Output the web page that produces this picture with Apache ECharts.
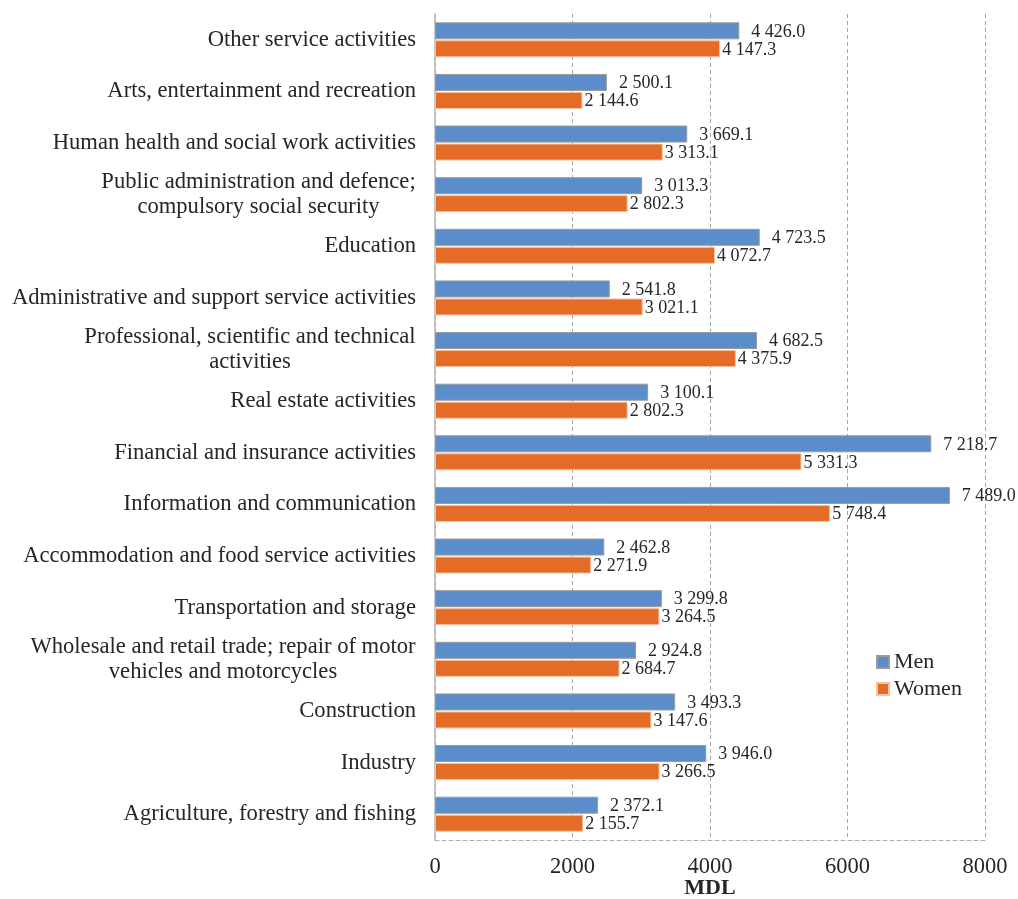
<!DOCTYPE html>
<html><head><meta charset="utf-8">
<script src="https://cdn.jsdelivr.net/npm/echarts@6/dist/echarts.min.js"></script>
<style>html,body{margin:0;padding:0;background:#fff}#c{width:1018px;height:899px}</style>
</head><body><div id="c"></div>
<script>
const categories = [
  "Other service activities",
  "Arts, entertainment and recreation",
  "Human health and social work activities",
  "Public administration and defence;\ncompulsory social security",
  "Education",
  "Administrative and support service activities",
  "Professional, scientific and technical\nactivities",
  "Real estate activities",
  "Financial and insurance activities",
  "Information and communication",
  "Accommodation and food service activities",
  "Transportation and storage",
  "Wholesale and retail trade; repair of motor\nvehicles and motorcycles",
  "Construction",
  "Industry",
  "Agriculture, forestry and fishing"
];
const men = [4426.0, 2500.1, 3669.1, 3013.3, 4723.5, 2541.8, 4682.5, 3100.1, 7218.7, 7489.0, 2462.8, 3299.8, 2924.8, 3493.3, 3946.0, 2372.1];
const women = [4147.3, 2144.6, 3313.1, 2802.3, 4072.7, 3021.1, 4375.9, 2802.3, 5331.3, 5748.4, 2271.9, 3264.5, 2684.7, 3147.6, 3266.5, 2155.7];
const xTicks = [0, 2000, 4000, 6000, 8000];

const FONT = '"Liberation Serif", "Times New Roman", serif';
const CAT_SIZE = 22.6;
const LH = 25;

function fmt(v) {
  const s = v.toFixed(1);
  const [i, d] = s.split('.');
  return i.replace(/\B(?=(\d{3})+(?!\d))/g, ' ') + '.' + d;
}

// measure multi-line labels so lines can be centred within their block
const cv = document.createElement('canvas').getContext('2d');
cv.font = CAT_SIZE + 'px ' + FONT;
const rich = {};
const labelMap = {};
categories.forEach((c, idx) => {
  if (c.indexOf('\n') >= 0) {
    const lines = c.split('\n');
    const w = Math.ceil(Math.max(...lines.map(l => cv.measureText(l).width)));
    const key = 'm' + idx;
    rich[key] = { width: w, align: 'center', fontSize: CAT_SIZE, fontFamily: FONT, color: '#262626', lineHeight: LH };
    labelMap[c] = lines.map(l => '{' + key + '|' + l + '}').join('\n');
  }
});

const chart = echarts.init(document.getElementById('c'));
chart.setOption({
  animation: false,
  grid: { left: 435, right: 33, top: 14, bottom: 59, containLabel: false, outerBoundsMode: 'none' },
  legend: {
    orient: 'vertical', left: 871, top: 646,
    itemWidth: 12, itemHeight: 12, itemGap: 5,
    textStyle: { fontFamily: FONT, fontSize: 22, color: '#262626' },
    data: [{ name: 'Men', icon: 'rect' }, { name: 'Women', icon: 'rect' }]
  },
  xAxis: {
    type: 'value', min: xTicks[0], max: xTicks[xTicks.length - 1], interval: 2000,
    name: 'MDL', nameLocation: 'middle', nameGap: 37, nameMoveOverlap: false,
    nameTextStyle: { fontFamily: FONT, fontSize: 22, fontWeight: 'bold', color: '#262626' },
    axisLine: { show: true, lineStyle: { color: '#b0b0b0', type: [4, 3] } },
    axisTick: { show: false },
    axisLabel: { fontFamily: FONT, fontSize: 22.5, color: '#262626', margin: 16, formatter: v => String(v) },
    splitLine: { show: true, lineStyle: { color: '#a6a6a6', type: [4, 3] } }
  },
  yAxis: {
    type: 'category', inverse: true, data: categories,
    axisLine: { show: true, lineStyle: { color: '#b5b5b5', width: 1.5 } },
    axisTick: { show: false },
    axisLabel: {
      fontFamily: FONT, fontSize: CAT_SIZE, color: '#262626', margin: 19, lineHeight: LH,
      formatter: v => labelMap[v] || v,
      rich: rich
    }
  },
  series: [
    {
      name: 'Men', type: 'bar', data: men,
      barWidth: 17, barGap: '6%',
      itemStyle: { color: '#5A8DCA', borderColor: '#9a9a9a', borderWidth: 1 },
      label: { show: true, position: 'right', distance: 12, formatter: p => fmt(p.value),
        fontFamily: FONT, fontSize: 18, color: '#262626', offset: [0, 1] }
    },
    {
      name: 'Women', type: 'bar', data: women,
      barWidth: 17,
      itemStyle: { color: '#E56C26', borderColor: '#f4c3a4', borderWidth: 1 },
      label: { show: true, position: 'right', distance: 2, formatter: p => fmt(p.value),
        fontFamily: FONT, fontSize: 18, color: '#262626', offset: [0, 1] }
    }
  ]
});
</script></body></html>
